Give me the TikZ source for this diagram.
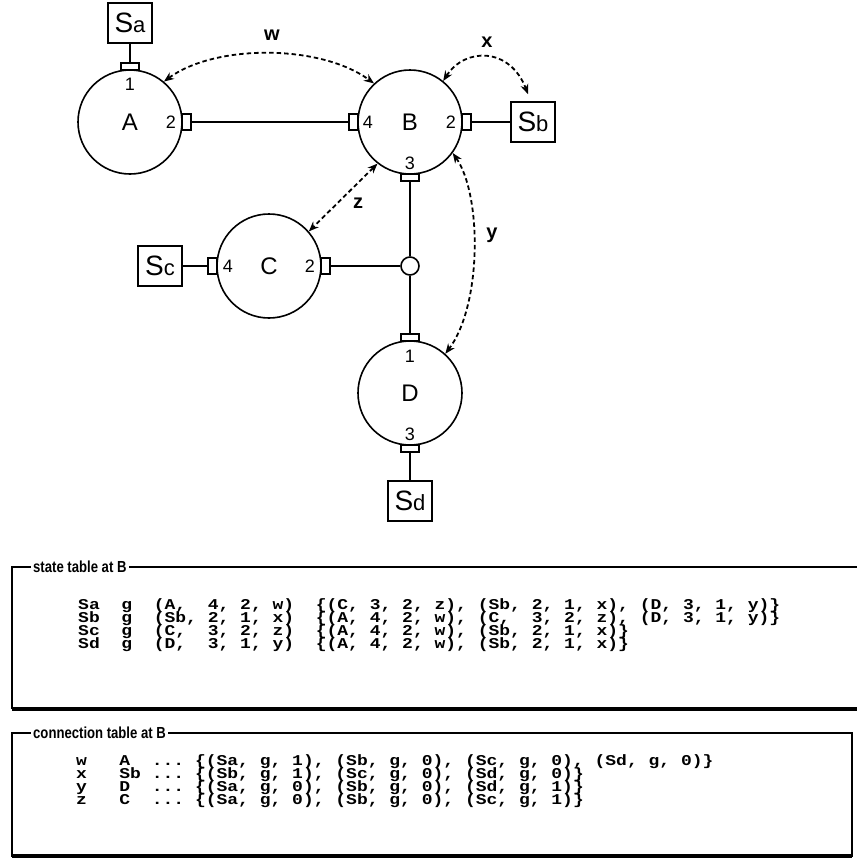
\documentclass[tikz,border=0pt]{standalone}
\usepackage{fontspec}
\setmainfont{Liberation Sans}
\newfontfamily\tabfont{Liberation Mono}[FakeStretch=1.2]
\newfontfamily\narrowfont{Liberation Sans}[FakeStretch=0.82]
\usetikzlibrary{arrows.meta}
\frenchspacing
\begin{document}
\begin{tikzpicture}[x=1pt,y=-1pt,
  station/.style={circle, draw, line width=1.6pt, minimum size=104pt, inner sep=0pt, font=\fontsize{24}{24}\selectfont},
  sbox/.style={draw, line width=1.6pt, minimum width=44pt, minimum height=40pt, inner sep=0pt, fill=white},
  hport/.style={draw, line width=1.3pt, fill=white, minimum width=9pt, minimum height=16pt, inner sep=0pt},
  vport/.style={draw, line width=1.3pt, fill=white, minimum width=18pt, minimum height=7pt, inner sep=0pt},
  plabel/.style={font=\fontsize{18}{18}\selectfont, inner sep=0pt},
  link/.style={line width=1.6pt},
  flow/.style={{Stealth[length=10pt,width=8pt]}-{Stealth[length=10pt,width=8pt]}, dash pattern=on 4.5pt off 3pt, line width=1.8pt},
  alabel/.style={font=\bfseries\fontsize{20}{20}\selectfont, inner sep=0pt},
  tabtitle/.style={fill=white, font=\narrowfont\bfseries\fontsize{16}{16}\selectfont, anchor=west, inner xsep=2pt, inner ysep=1pt},
  tabrow/.style={anchor=base west, inner sep=0pt, font=\tabfont\bfseries\fontsize{15}{15}\selectfont},
  frame/.style={line width=1.2pt},
  shadowline/.style={line width=3.5pt}
]
\useasboundingbox (0,0) rectangle (857,860);
\newcommand{\slabel}[1]{{\fontsize{28}{28}\selectfont S}{\fontsize{22}{22}\selectfont #1}}

% stations
\node[station] (A) at (130,122) {A};
\node[station] (B) at (410,122) {B};
\node[station] (C) at (269,266) {C};
\node[station] (D) at (410,393) {D};
\node[circle, draw, line width=1.6pt, minimum size=18pt, inner sep=0pt, fill=white] (J) at (410,266) {};

% endpoint boxes
\node[sbox] (Sa) at (130,23) {\slabel{a}};
\node[sbox] (Sb) at (533,122) {\slabel{b}};
\node[sbox] (Sc) at (160,266) {\slabel{c}};
\node[sbox] (Sd) at (410,501) {\slabel{d}};

% ports
\node[vport] (pA1) at (130,66.5) {};
\node[hport] (pA2) at (186.5,122) {};
\node[hport] (pB4) at (353.5,122) {};
\node[hport] (pB2) at (466.5,122) {};
\node[vport] (pB3) at (410,177.5) {};
\node[hport] (pC4) at (212.5,266) {};
\node[hport] (pC2) at (325.5,266) {};
\node[vport] (pD1) at (410,337.5) {};
\node[vport] (pD3) at (410,448.5) {};

% port numbers
\node[plabel] (nA1) at (130,84) {1};
\node[plabel] (nA2) at (171,122) {2};
\node[plabel] (nB4) at (368,122) {4};
\node[plabel] (nB2) at (451,122) {2};
\node[plabel] (nB3) at (410,163) {3};
\node[plabel] (nC4) at (228,266) {4};
\node[plabel] (nC2) at (310,266) {2};
\node[plabel] (nD1) at (410,356) {1};
\node[plabel] (nD3) at (410,434) {3};

% links
\draw[link] (Sa) -- (pA1);
\draw[link] (pA2) -- (pB4);
\draw[link] (pB2) -- (Sb);
\draw[link] (pB3) -- (J);
\draw[link] (J) -- (pD1);
\draw[link] (pC2) -- (J);
\draw[link] (Sc) -- (pC4);
\draw[link] (pD3) -- (Sd);

% flows
\draw[flow] (A.50) .. controls (215,44) and (320,44) .. (B.133);
\draw[flow] (B.51) .. controls (465,47) and (510,47) .. ([xshift=-5pt,yshift=7pt]Sb.north);
\draw[flow] (B.232) -- (C.41);
\draw[flow] (B.-36) .. controls (482,195) and (482,305) .. (D.48);
\node[alabel] (lw) at (272,35) {w};
\node[alabel] (lx) at (487,42) {x};
\node[alabel] (lz) at (358,203) {z};
\node[alabel] (ly) at (492,235) {y};

% state table
\draw[frame] (870,567) -- (12,567) -- (12,709);
\draw[shadowline] (12,709) -- (870,709);
\node[tabtitle] (st) at (31,567) {state table at B};
\node[tabrow] (s1) at (78,609) {Sa~~g~~(A,~~4,~2,~w)~~\{(C,~3,~2,~z),~(Sb,~2,~1,~x),~(D,~3,~1,~y)\}};
\node[tabrow] (s2) at (78,622) {Sb~~g~~(Sb,~2,~1,~x)~~\{(A,~4,~2,~w),~(C,~~3,~2,~z),~(D,~3,~1,~y)\}};
\node[tabrow] (s3) at (78,635) {Sc~~g~~(C,~~3,~2,~z)~~\{(A,~4,~2,~w),~(Sb,~2,~1,~x)\}};
\node[tabrow] (s4) at (78,648) {Sd~~g~~(D,~~3,~1,~y)~~\{(A,~4,~2,~w),~(Sb,~2,~1,~x)\}};

% connection table
\draw[frame] (12,733) rectangle (852,856);
\draw[shadowline] (12,856) -- (852,856);
\node[tabtitle] (ct) at (31,733) {connection table at B};
\node[tabrow] (c1) at (76,765) {w~~~A~~...~\{(Sa,~g,~1),~(Sb,~g,~0),~(Sc,~g,~0),~(Sd,~g,~0)\}};
\node[tabrow] (c2) at (76,778) {x~~~Sb~...~\{(Sb,~g,~1),~(Sc,~g,~0),~(Sd,~g,~0)\}};
\node[tabrow] (c3) at (76,791) {y~~~D~~...~\{(Sa,~g,~0),~(Sb,~g,~0),~(Sd,~g,~1)\}};
\node[tabrow] (c4) at (76,804) {z~~~C~~...~\{(Sa,~g,~0),~(Sb,~g,~0),~(Sc,~g,~1)\}};
\end{tikzpicture}
\end{document}
